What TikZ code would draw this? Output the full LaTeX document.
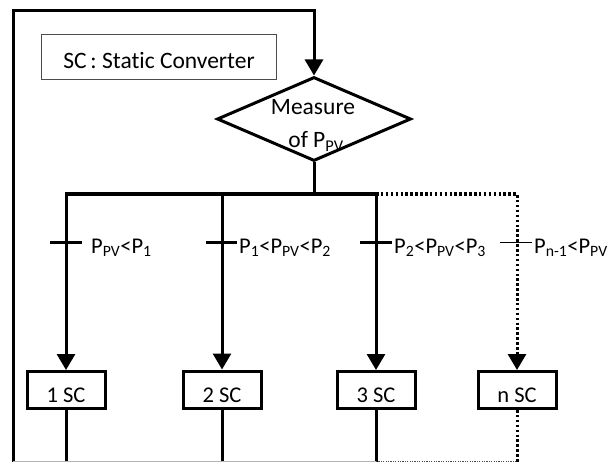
\documentclass[tikz,border=0pt]{standalone}
\usepackage{fontspec}
\setmainfont{Carlito}[Ligatures=NoCommon]
\usetikzlibrary{arrows.meta,shapes.geometric}
\begin{document}
\begin{tikzpicture}[x=1pt,y=-1pt,
  thickline/.style={line width=3pt},
  dotline/.style={line width=3pt, dash pattern=on 2.5pt off 2.4pt},
  arr/.style={-{Triangle[width=18pt,length=16pt]}},
  txt/.style={font=\fontsize{23.5}{27}\selectfont, inner sep=0pt},
  lbl/.style={font=\fontsize{22.5}{27}\selectfont, inner sep=0pt},
  scbox/.style={draw, line width=3pt, minimum width=78pt, minimum height=37pt,
    inner sep=0pt, font=\fontsize{22.5}{26}\selectfont, text height=25pt, text depth=0pt},
  tick/.style={line width=3pt},
  thintick/.style={line width=0.8pt}
]
\useasboundingbox (0,0) rectangle (609,462);

% legend
\node[draw=black!70, line width=0.8pt, minimum width=235pt, minimum height=45pt,
  txt, text height=23pt, text depth=0pt] (legend) at (159,57) {SC\,: Static Converter};

% decision
\node[draw, diamond, line width=3pt, minimum width=194pt, minimum height=84pt,
  inner sep=0pt] (meas) at (314,119) {};
\node[txt, anchor=base] (m1) at (313,115) {Measure};
\node[txt, anchor=base] (m2) at (316,148) {of P\textsubscript{PV}};

% converters
\node[scbox] (box1) at (66,390) {1 SC};
\node[scbox] (box2) at (222,389.5) {2 SC};
\node[scbox] (box3) at (376,390) {3 SC};
\node[scbox] (boxn) at (517,390) {n SC};

% coordinates
\coordinate (loopbot) at (13,462);
\coordinate (ltop) at (13,11);
\coordinate (bus) at (314,194);
\coordinate (b2) at (222,194);
\coordinate (b3) at (376,194);
\coordinate (t1) at (66,242);
\coordinate (t2) at (222,242);
\coordinate (t3) at (376,242);
\coordinate (tn) at (518,242);

% feedback loop
\draw[thickline, arr] (loopbot) -- (ltop) -| (meas.north);

% trunk and bus
\draw[thickline] (meas.south) -- (bus);
\draw[thickline, arr] (bus) -| (box1);
\draw[thickline, arr] (bus) -| (box3);
\draw[thickline, arr] (b2) -- (box2);
\draw[dotline, arr] (b3) -| (boxn);

% ticks
\draw[tick] ([xshift=-16pt]t1) -- ([xshift=16pt]t1);
\draw[tick] ([xshift=-16pt]t2) -- ([xshift=15pt]t2);
\draw[tick] ([xshift=-16pt]t3) -- ([xshift=16pt]t3);
\draw[thintick] ([xshift=-18pt]tn) -- ([xshift=14pt]tn);

% labels
\node[lbl, anchor=base west] (l1) at (91,253) {P\textsubscript{PV}<P\textsubscript{1}};
\node[lbl, anchor=base west] (l2) at (239,253) {P\textsubscript{1}<P\textsubscript{PV}<P\textsubscript{2}};
\node[lbl, anchor=base west] (l3) at (394,253) {P\textsubscript{2}<P\textsubscript{PV}<P\textsubscript{3}};
\node[lbl, anchor=base west] (ln) at (534,253) {P\textsubscript{n-1}<P\textsubscript{PV}};

% outputs to bottom
\coordinate (o1) at (66,462);
\coordinate (o2) at (222,462);
\coordinate (o3) at (376,462);
\coordinate (on) at (517,462);
\draw[thickline] (box1) -- (o1);
\draw[thickline] (box2) -- (o2);
\draw[thickline] (box3) -- (o3);
\draw[dotline] (boxn) -- (on);

% bottom collector
\coordinate (c0) at (13,461);
\coordinate (c3) at (376,461);
\coordinate (cn) at (517,461);
\draw[black!30, line width=1pt] (c0) -- (c3);
\draw[black!70, line width=1pt, dash pattern=on 1.2pt off 1.2pt] (c3) -- (cn);
\end{tikzpicture}
\end{document}
